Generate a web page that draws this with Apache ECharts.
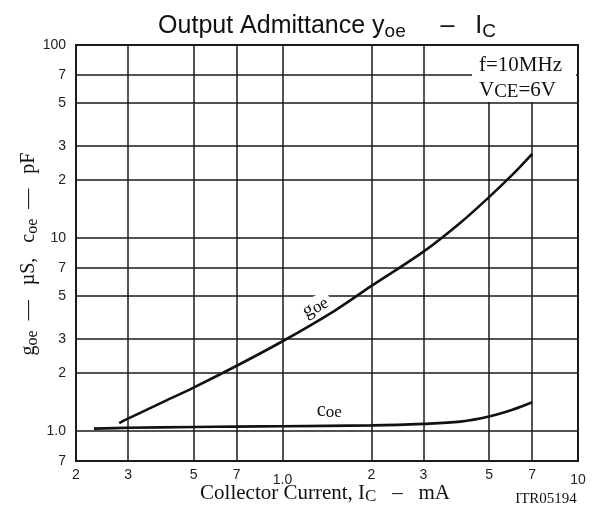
<!DOCTYPE html>
<html><head><meta charset="utf-8">
<script src="https://cdn.jsdelivr.net/npm/echarts@6/dist/echarts.min.js"></script>
<style>html,body{margin:0;padding:0;background:#fff}#c{width:601px;height:510px}</style>
</head><body><div id="c"></div>
<script>
// Data (collector current in mA)
const goeCurrent = [0.28, 0.3, 0.4, 0.5, 0.7, 1.0, 1.5, 2, 3, 4, 5, 6, 7];
const goeValues  = [1.1, 1.16, 1.43, 1.68, 2.18, 2.92, 4.2, 5.65, 8.5, 12.0, 16.3, 21.3, 27.3];
const coeCurrent = [0.23, 0.3, 0.5, 0.7, 1.0, 2, 3, 4, 5, 6, 7];
const coeValues  = [1.03, 1.04, 1.05, 1.055, 1.06, 1.07, 1.09, 1.12, 1.19, 1.29, 1.41];
const xTickValues = [0.2, 0.3, 0.5, 0.7, 1, 2, 3, 5, 7, 10];
const xTickLabels = ['2', '3', '5', '7', '1.0', '2', '3', '5', '7', '10'];
const yTickValues = [0.7, 1, 2, 3, 5, 7, 10, 20, 30, 50, 70, 100];
const yTickLabels = ['7', '1.0', '2', '3', '5', '7', '10', '2', '3', '5', '7', '100'];

const lg = Math.log10;
function findLabel(values, labels, v) {
  for (let i = 0; i < values.length; i++) {
    if (Math.abs(lg(values[i]) - v) < 1e-6) return labels[i];
  }
  return '';
}
const INK = '#1a1a1a';
const chart = echarts.init(document.getElementById('c'));
const option = {
  animation: false,
  backgroundColor: '#fff',
  grid: {left: 76, right: 23, top: 45, bottom: 49, show: true, borderColor: INK, borderWidth: 2},
  xAxis: {
    type: 'value', min: lg(0.2), max: lg(10),
    axisLine: {show: true, onZero: false, lineStyle: {color: INK, width: 2}},
    axisTick: {show: false, customValues: xTickValues.map(lg)},
    axisLabel: {
      customValues: xTickValues.map(lg), margin: 7, color: '#222',
      fontFamily: 'Liberation Sans', fontSize: 14,
      formatter: v => {
        const t = findLabel(xTickValues, xTickLabels, v);
        return (t === '1.0' || t === '10') ? '{d|' + t + '}' : t;
      },
      rich: {d: {fontFamily: 'Liberation Sans', fontSize: 14, color: '#222', padding: [5, 0, 0, 0]}}
    },
    splitLine: {show: true, lineStyle: {color: INK, width: 1.5}}
  },
  yAxis: {
    type: 'value', min: lg(0.7), max: lg(100),
    axisLine: {show: true, onZero: false, lineStyle: {color: INK, width: 2}},
    axisTick: {show: false, customValues: yTickValues.map(lg)},
    axisLabel: {
      customValues: yTickValues.map(lg), margin: 10, color: '#222',
      fontFamily: 'Liberation Sans', fontSize: 14,
      formatter: v => findLabel(yTickValues, yTickLabels, v)
    },
    splitLine: {show: true, lineStyle: {color: INK, width: 1.5}}
  },
  series: [
    {type: 'line', name: 'goe', smooth: 0.35, showSymbol: false, z: 5,
     lineStyle: {color: '#111', width: 2.6},
     data: goeCurrent.map((x, i) => [lg(x), lg(goeValues[i])])},
    {type: 'line', name: 'coe', smooth: 0.35, showSymbol: false, z: 5,
     lineStyle: {color: '#111', width: 2.6},
     data: coeCurrent.map((x, i) => [lg(x), lg(coeValues[i])])}
  ]
};
chart.setOption(option);

const pGoe = chart.convertToPixel({gridIndex: 0}, [lg(1.29), lg(4.4)]);
const pCoe = chart.convertToPixel({gridIndex: 0}, [lg(1.44), lg(1.28)]);
const serif = 'Liberation Serif';
chart.setOption({
  graphic: [
    {type: 'text', x: 327, y: 26, z: 10,
     style: {
       text: '{a|Output Admittance y}{s|oe}{a|     –   I}{s|C}',
       align: 'center', verticalAlign: 'middle',
       rich: {
         a: {fontFamily: 'Liberation Sans', fontSize: 25, lineHeight: 30, verticalAlign: 'middle', fill: '#111'},
         s: {fontFamily: 'Liberation Sans', fontSize: 19, lineHeight: 19, verticalAlign: 'bottom', fill: '#111'}
       }
     }},
    {type: 'text', x: 29, y: 254, rotation: Math.PI / 2, z: 10,
     style: {
       text: '{a|g}{s|oe}{a|  —   µS,   c}{s|oe}{a|  —   pF}',
       align: 'center', verticalAlign: 'middle',
       rich: {
         a: {fontFamily: serif, fontSize: 20, lineHeight: 24, verticalAlign: 'middle', fill: '#111'},
         s: {fontFamily: serif, fontSize: 16, lineHeight: 16, verticalAlign: 'bottom', fill: '#111'}
       }
     }},
    {type: 'text', x: 325, y: 493, z: 10,
     style: {
       text: '{a|Collector Current, I}{s|C}{a|   –   mA}',
       align: 'center', verticalAlign: 'middle',
       rich: {
         a: {fontFamily: serif, fontSize: 21, lineHeight: 24, verticalAlign: 'middle', fill: '#111'},
         s: {fontFamily: serif, fontSize: 17, lineHeight: 17, verticalAlign: 'bottom', fill: '#111'}
       }
     }},
    {type: 'text', x: 546, y: 499, z: 10,
     style: {text: 'ITR05194', align: 'center', verticalAlign: 'middle',
             font: '15px "Liberation Serif"', fill: '#111'}},
    {type: 'rect', shape: {x: 472, y: 46, width: 104, height: 56}, z: 8,
     style: {fill: '#fff'}},
    {type: 'text', x: 479, y: 65, z: 10,
     style: {text: 'f=10MHz', align: 'left', verticalAlign: 'middle',
             font: '21px "Liberation Serif"', fill: '#111'}},
    {type: 'text', x: 479, y: 90, z: 10,
     style: {
       text: '{a|V}{s|CE}{a|=6V}', align: 'left', verticalAlign: 'middle',
       rich: {
         a: {fontFamily: serif, fontSize: 21, lineHeight: 24, verticalAlign: 'middle', fill: '#111'},
         s: {fontFamily: serif, fontSize: 19, lineHeight: 19, verticalAlign: 'bottom', fill: '#111'}
       }
     }},
    {type: 'text', x: pGoe[0], y: pGoe[1], rotation: 0.5, z: 10,
     style: {
       text: '{a|g}{s|oe}', align: 'center', verticalAlign: 'middle',
       backgroundColor: '#fff', padding: [0, 4, 0, 4],
       rich: {
         a: {fontFamily: serif, fontSize: 20, lineHeight: 20, verticalAlign: 'middle', fill: '#111'},
         s: {fontFamily: serif, fontSize: 17, lineHeight: 17, verticalAlign: 'bottom', fill: '#111'}
       }
     }},
    {type: 'text', x: pCoe[0], y: pCoe[1], z: 10,
     style: {
       text: '{a|c}{s|oe}', align: 'center', verticalAlign: 'middle',
       rich: {
         a: {fontFamily: serif, fontSize: 20, lineHeight: 22, verticalAlign: 'middle', fill: '#111'},
         s: {fontFamily: serif, fontSize: 17, lineHeight: 17, verticalAlign: 'bottom', fill: '#111'}
       }
     }}
  ]
});
</script></body></html>
